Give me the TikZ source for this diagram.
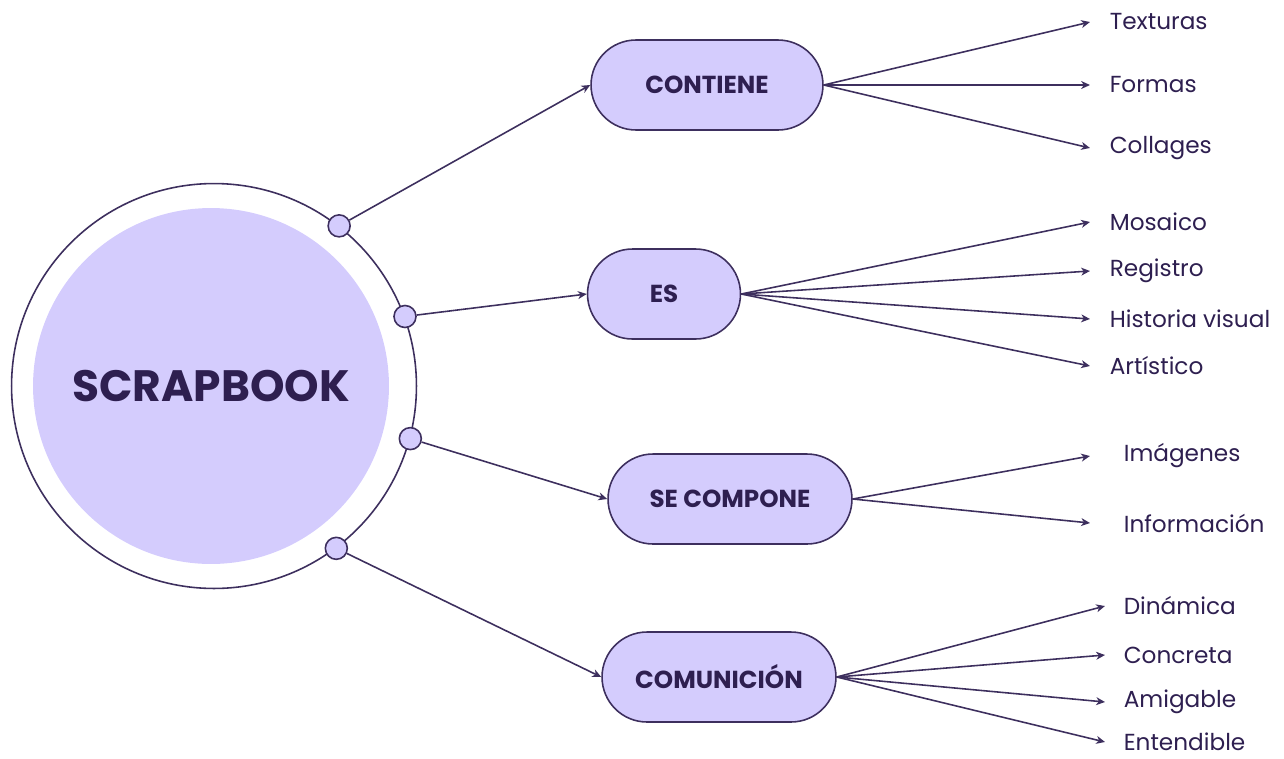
\documentclass[tikz,border=0pt]{standalone}
\usepackage{fontspec}
\setmainfont{Poppins}
\usetikzlibrary{arrows.meta}
\definecolor{tinta}{HTML}{3D2F5E}
\definecolor{texto}{HTML}{2E1F50}
\definecolor{lila}{HTML}{D4CCFD}
\begin{document}
\begin{tikzpicture}[x=0.02cm, y=-0.02cm, line width=0.9pt,
    anillo/.style = {draw=tinta, circle, inner sep=0pt, minimum size=8.1cm},
    nucleo/.style = {fill=lila, circle, inner sep=0pt, minimum size=7.12cm, text=texto, font=\fontsize{25}{29}\selectfont\bfseries},
    punto/.style = {draw=tinta, fill=lila, circle, inner sep=0pt, minimum size=0.44cm},
    rama/.style = {draw=tinta, fill=lila, rounded corners=0.9cm, minimum height=1.8cm, text=texto, font=\fontsize{14}{17}\selectfont\bfseries},
    hoja/.style = {anchor=west, inner ysep=0pt, text=texto, font=\fontsize{13.2}{16}\selectfont},
    flecha/.style = {draw=tinta, -{Stealth[length=5pt, width=4.5pt, inset=1.5pt]}}]
        \useasboundingbox (0,0) rectangle (1284,758);

        \node[anillo] (sb) at (214,386) {};
        \node[nucleo] (sbin) at (211,386) {SCRAPBOOK};
        \node[punto] (p1) at (sb.52) {};
        \node[punto] (p2) at (sb.20) {};
        \node[punto] (p3) at (sb.-15) {};
        \node[punto] (p4) at (sb.-53) {};

        \node[rama, minimum width=4.64cm] (contiene) at (707,85) {CONTIENE};
        \node[rama, minimum width=3.06cm] (es) at (664,294) {ES};
        \node[rama, minimum width=4.88cm] (compone) at (730,499) {SE COMPONE};
        \node[rama, minimum width=4.68cm] (comunica) at (719,677) {COMUNICIÓN};

        \node[hoja, inner xsep=0.38cm] (texturas) at (1090,22) {Texturas};
        \node[hoja, inner xsep=0.38cm] (formas) at (1090,85) {Formas};
        \node[hoja, inner xsep=0.38cm] (collages) at (1090,148) {Collages};

        \node[hoja, inner xsep=0.38cm] (mosaico) at (1090,222) {Mosaico};
        \node[hoja, inner xsep=0.38cm] (registro) at (1090,271) {Registro};
        \node[hoja, inner xsep=0.38cm] (historia) at (1090,319) {Historia visual};
        \node[hoja, inner xsep=0.38cm] (artistico) at (1090,366) {Artístico};

        \node[hoja, inner xsep=0.66cm] (imagenes) at (1090,456) {Imágenes};
        \node[hoja, inner xsep=0.66cm] (informacion) at (1090,523) {Información};

        \node[hoja, inner xsep=0.36cm] (dinamica) at (1105,606) {Dinámica};
        \node[hoja, inner xsep=0.36cm] (concreta) at (1105,655) {Concreta};
        \node[hoja, inner xsep=0.36cm] (amigable) at (1105,702) {Amigable};
        \node[hoja, inner xsep=0.36cm] (entendible) at (1105,742) {Entendible};

        \draw[flecha] (p1) -- (contiene.west);
        \draw[flecha] (p2) -- (es.west);
        \draw[flecha] (p3) -- (compone.west);
        \draw[flecha] (p4) -- (comunica.west);

        \draw[flecha] (contiene.east) -- (texturas.west);
        \draw[flecha] (contiene.east) -- (formas.west);
        \draw[flecha] (contiene.east) -- (collages.west);

        \draw[flecha] (es.east) -- (mosaico.west);
        \draw[flecha] (es.east) -- (registro.west);
        \draw[flecha] (es.east) -- (historia.west);
        \draw[flecha] (es.east) -- (artistico.west);

        \draw[flecha] (compone.east) -- (imagenes.west);
        \draw[flecha] (compone.east) -- (informacion.west);

        \draw[flecha] (comunica.east) -- (dinamica.west);
        \draw[flecha] (comunica.east) -- (concreta.west);
        \draw[flecha] (comunica.east) -- (amigable.west);
        \draw[flecha] (comunica.east) -- (entendible.west);
    \end{tikzpicture}
\end{document}
